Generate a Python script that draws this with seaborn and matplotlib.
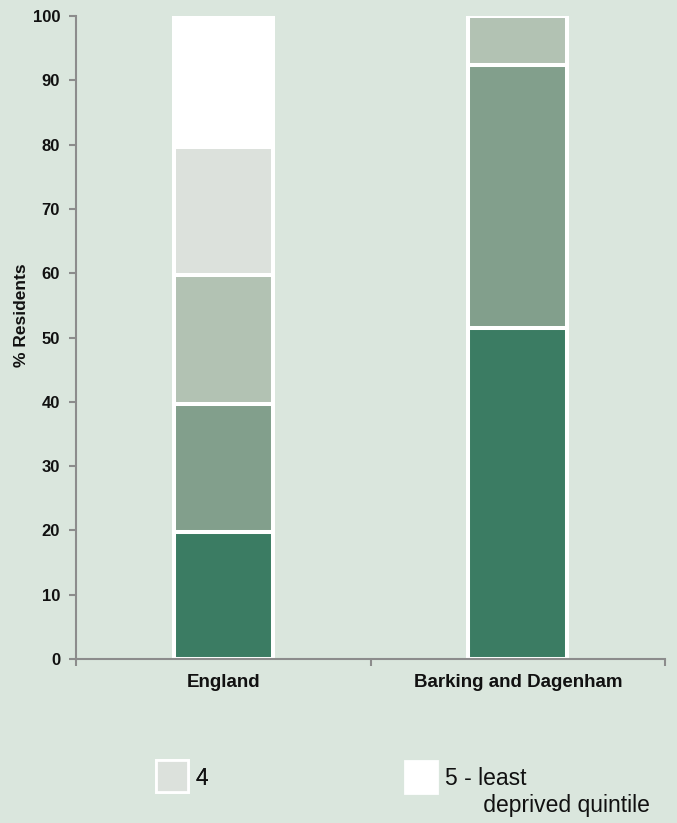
import matplotlib
matplotlib.use("Agg")
import matplotlib.pyplot as plt
from matplotlib.patches import Patch, Rectangle
from matplotlib.legend_handler import HandlerPatch
from matplotlib.ticker import FixedLocator
import numpy as np
import pandas as pd
import seaborn as sns

# Share of residents by deprivation quintile (%)
areas = ["England", "Barking and Dagenham"]
quintiles = ["1 - most deprived quintile", "2", "3", "4", "5 - least deprived quintile"]
england = [19.8, 19.9, 20.0, 19.9, 20.4]
barking = [51.5, 40.9, 7.6, 0.0, 0.0]
colours = ["#3b7c63", "#829f8c", "#b2c2b3", "#dce1dc", "#ffffff"]
y_ticks = list(range(0, 101, 10))

sns.set_theme(style="ticks")
plt.rcParams["font.family"] = ["Liberation Sans", "DejaVu Sans"]

bg = "#dae6dd"
axis_grey = "#8c8c8c"
ink = "#111111"

fig = plt.figure(figsize=(6.77, 8.23), dpi=100, facecolor=bg)
ax = fig.add_axes([76 / 677, 1 - 659 / 823, (665 - 76) / 677, (659 - 16) / 823])
ax.set_facecolor(bg)

df = pd.DataFrame({
    "area": np.repeat(areas, len(quintiles)),
    "quintile": quintiles * len(areas),
    "pct": england + barking,
})
df["cum"] = df.groupby("area")["pct"].cumsum()

# Stack by drawing cumulative totals, top band first, so lower bands overlay it
for q, c in reversed(list(zip(quintiles, colours))):
    sub = df[df["quintile"] == q]
    sns.barplot(data=sub, x="area", y="cum", order=areas, color=c, saturation=1,
                width=0.335, edgecolor="white", linewidth=2.9, errorbar=None, ax=ax)

ax.set_xlim(-0.5, 1.5)
ax.set_ylim(0, 100)
ax.yaxis.set_major_locator(FixedLocator(y_ticks))
ax.xaxis.set_minor_locator(FixedLocator([-0.5, 0.5, 1.5]))

for side in ("top", "right"):
    ax.spines[side].set_visible(False)
for side in ("left", "bottom"):
    ax.spines[side].set_color(axis_grey)
    ax.spines[side].set_linewidth(1.5)

ax.tick_params(axis="x", which="major", length=0, pad=11, labelsize=13.5)
ax.tick_params(axis="x", which="minor", length=5, width=1.5, color=axis_grey)
ax.tick_params(axis="y", which="major", length=5, width=1.5, color=axis_grey,
               pad=6.5, labelsize=12)
for lbl in ax.get_xticklabels() + ax.get_yticklabels():
    lbl.set_fontweight("bold")
    lbl.set_color(ink)

ax.set_xlabel("")
ax.set_ylabel("% Residents", fontsize=12.5, fontweight="bold", color=ink)
ax.yaxis.set_label_coords(-0.08, 0.535)


class TopSquare(HandlerPatch):
    """Legend square lifted so it lines up with the first line of its label."""

    def __init__(self, lift=0.0):
        super().__init__()
        self.lift = lift

    def create_artists(self, legend, orig_handle, xdescent, ydescent,
                       width, height, fontsize, trans):
        p = Rectangle((-xdescent, -ydescent + self.lift), width, height)
        self.update_prop(p, orig_handle, legend)
        p.set_transform(trans)
        return [p]


legend_kw = dict(frameon=False, fontsize=16.5, handlelength=1.39, handleheight=1.77,
                 handletextpad=0.35, loc="upper left", borderaxespad=0, borderpad=0,
                 labelcolor=ink)

h4 = Patch(facecolor=colours[3], edgecolor="white", linewidth=2, label="4")
h5 = Patch(facecolor=colours[4], edgecolor="white", linewidth=2,
           label="5 - least\n      deprived quintile")

leg4 = fig.legend(handles=[h4], bbox_to_anchor=(156 / 677, 1 - 762 / 823),
                  handler_map={h4: TopSquare(1.5)}, **legend_kw)
leg5 = fig.legend(handles=[h5], bbox_to_anchor=(405 / 677, 1 - 767 / 823),
                  handler_map={h5: TopSquare(11.5)}, **legend_kw)
fig.add_artist(leg4)

fig.savefig("out.png", dpi=100, facecolor=bg)
